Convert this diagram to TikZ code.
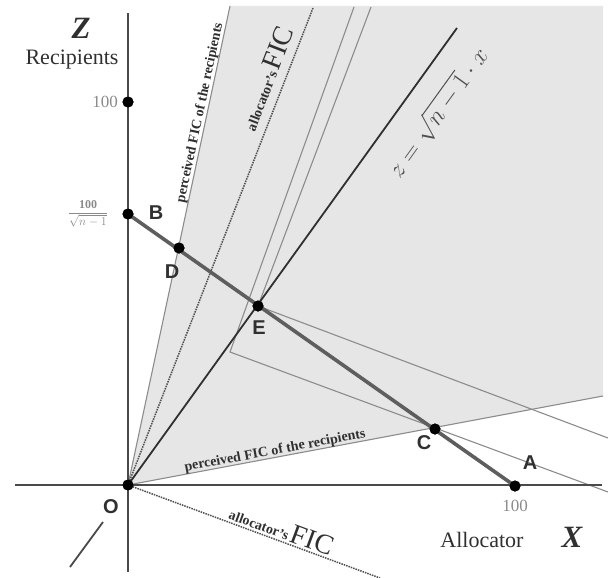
\documentclass[tikz,border=0pt]{standalone}
\usepackage{fontspec}
\setmainfont{Liberation Serif}
\setsansfont{Liberation Sans}
\definecolor{axisgray}{HTML}{4A4A4A}
\definecolor{thingray}{HTML}{8C8C8C}
\definecolor{dotgray}{HTML}{505050}
\definecolor{budgetgray}{HTML}{5E5E5E}
\definecolor{regiongray}{HTML}{E6E6E6}
\definecolor{labelgray}{HTML}{303030}
\definecolor{numgray}{HTML}{8A8A8A}
\begin{document}
\begin{tikzpicture}[x=1pt,y=-1pt,
  axis/.style={line width=2.6pt,draw=axisgray},
  thinline/.style={line width=1.1pt,draw=thingray},
  ficdot/.style={line width=1.5pt,draw=dotgray,densely dotted},
  budget/.style={line width=3.6pt,draw=budgetgray},
  ray/.style={line width=1.8pt,draw=labelgray},
  dot/.style={circle,fill=black,inner sep=0pt,minimum size=11pt},
  ptlabel/.style={font=\sffamily\bfseries\fontsize{20}{20}\selectfont,text=labelgray,inner sep=0pt},
  numlabel/.style={font=\fontsize{17}{17}\selectfont,text=numgray,inner sep=0pt},
  axlabel/.style={font=\fontsize{22}{22}\selectfont,text=labelgray,inner sep=0pt},
  axletter/.style={font=\bfseries\itshape\fontsize{31}{31}\selectfont,text=labelgray,inner sep=0pt},
  linetext/.style={font=\bfseries\fontsize{14}{14}\selectfont,text=labelgray,inner sep=0pt}
]
\useasboundingbox (0,0) rectangle (608,578);

% key coordinates
\coordinate (Oc) at (128,485);
\coordinate (Ptop) at (230,6);
\coordinate (Pright) at (603,396);
\coordinate (Ftop) at (313,8);
\coordinate (Fbot) at (380,578);
\coordinate (Ztop) at (457,28);
\coordinate (I1a) at (354,7);
\coordinate (I1k) at (230,352);
\coordinate (I1b) at (608,492);
\coordinate (I2a) at (371,7);
\coordinate (I2b) at (608,438);
\coordinate (Zaxt) at (128,13);
\coordinate (Zaxb) at (128,572);
\coordinate (Xaxl) at (15,485);
\coordinate (Xaxr) at (602,485);
\coordinate (Yax1) at (70,567);
\coordinate (Yax2) at (103,522);

% shaded region
\fill[regiongray] (Oc) -- (Ptop) -- (603,6) -- (Pright) -- cycle;

% points (defined first for connectors)
\path (128,485) node[dot] (O) {}
      (128,102) node[dot] (Z100) {}
      (128,214) node[dot] (B) {}
      (515,486) node[dot] (A) {}
      (179,248) node[dot] (D) {}
      (258,306) node[dot] (E) {}
      (435,429) node[dot] (C) {};

% thin lines
\draw[thinline] (O.center) -- (Ptop);
\draw[thinline] (O.center) -- (Pright);
\draw[thinline] (I1a) -- (I1k) -- (I1b);
\draw[thinline] (I2a) -- (E.center) -- (I2b);
% dotted FIC lines
\draw[ficdot] (O.center) -- (Ftop);
\draw[ficdot] (O.center) -- (Fbot);
% z = sqrt(n-1) x
\draw[ray] (O.center) -- (Ztop);
% axes
\draw[axis] (Zaxt) -- (Zaxb);
\draw[axis] (Xaxl) -- (Xaxr);
\draw[line width=1.8pt,draw=axisgray] (Yax1) -- (Yax2);
% budget line
\draw[budget] (B.center) -- (A.center);

% redraw dots on top
\foreach \p in {O,Z100,B,A,D,E,C} \fill (\p.center) circle (5.5pt);

% labels
\node[axletter] (Zl) at (81,28) {Z};
\node[axlabel] (Rl) at (72,60) {Recipients};
\node[numlabel] (n100z) at (105,102) {100};
\node[text=numgray,inner sep=0pt,font=\fontsize{12}{12}\selectfont] (frac) at (88,214) {$\displaystyle\frac{\mathbf{100}}{\sqrt{n-1}}$};
\node[ptlabel] (Bl) at (156,213) {B};
\node[ptlabel] (Dl) at (172,272) {D};
\node[ptlabel] (El) at (259,328) {E};
\node[ptlabel] (Cl) at (424,443) {C};
\node[ptlabel] (Al) at (530,463) {A};
\node[ptlabel] (Ol) at (111,507) {O};
\node[numlabel] (n100x) at (515,506) {100};
\node[axlabel] (All) at (482,540) {Allocator};
\node[axletter] (Xl) at (572,537) {X};

\node[text=labelgray!85,inner sep=0pt,rotate=54.2,font=\fontsize{23}{23}\selectfont] (zeq) at (438,113) {$z=\sqrt{n-1}\cdot x$};
\node[linetext,rotate=78] (pf1) at (200,113) {perceived FIC of the recipients};
\node[linetext,rotate=10.6] (pf2) at (275,451) {perceived FIC of the recipients};
\node[text=labelgray,inner sep=0pt,rotate=68.8] (af1) at (266,78) {{\bfseries\fontsize{14}{14}\selectfont allocator's} {\fontsize{28}{28}\selectfont FIC}};
\node[text=labelgray,inner sep=0pt,rotate=-20.3] (af2) at (282,529) {{\bfseries\fontsize{14}{14}\selectfont allocator's} {\fontsize{28}{28}\selectfont FIC}};
\end{tikzpicture}
\end{document}
